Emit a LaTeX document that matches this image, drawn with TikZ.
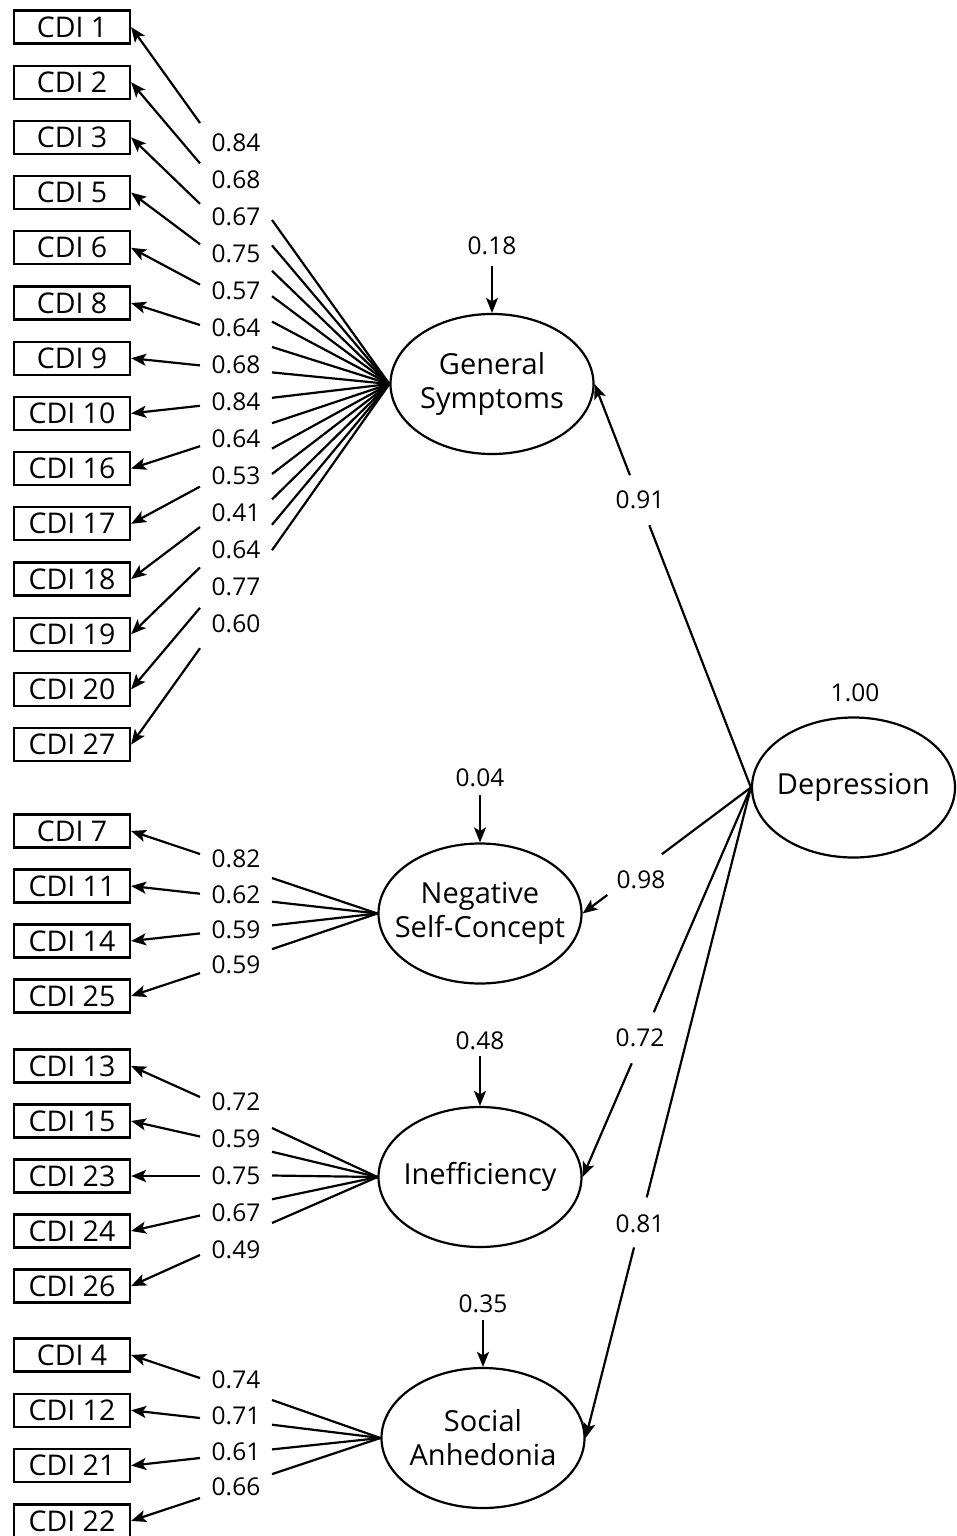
\documentclass[tikz,border=0pt]{standalone}
\usepackage{fontspec}
\setmainfont{Open Sans}
\usetikzlibrary{arrows.meta,calc,shapes.geometric}
\begin{document}
\begin{tikzpicture}[x=1pt,y=-1pt,
  ind/.style={draw,line width=2.2pt,minimum width=116pt,minimum height=33pt,inner sep=0pt,font=\fontsize{28.5}{30}\selectfont},
  lat/.style={draw,ellipse,line width=2.2pt,minimum width=203pt,minimum height=140pt,inner sep=0pt},
  lattext/.style={align=center,inner sep=0pt,font=\fontsize{29}{34}\selectfont},
  num/.style={inner sep=0pt,font=\fontsize{24.5}{26}\selectfont},
  ln/.style={line width=2.2pt},
  arr/.style={line width=2.2pt,-{Stealth[length=15pt,width=12pt,inset=3.5pt]}},
]
\fill[white] (0,0) rectangle (957,1536);
\useasboundingbox (0,0) rectangle (957,1536);

% latent variables
\node[lat] (gs) at (492,384) {};
\node[lattext] (gst) at (gs) {General\\Symptoms};
\node[lat] (nsc) at (480,913.5) {};
\node[lattext] (nsct) at (nsc) {Negative\\Self-Concept};
\node[lat] (ine) at (480,1177) {};
\node[lattext] (inet) at (ine) {Inefficiency};
\node[lat] (sa) at (483,1438) {};
\node[lattext] (sat) at (sa) {Social\\Anhedonia};
\node[lat] (dep) at (853.5,787.5) {};
\node[lattext] (dept) at (dep) {Depression};

% residual variances
\node[num] (vgs) at (492,246) {0.18};
\draw[arr,shorten <=11pt] (vgs.south) -- (gs.north);
\node[num] (vnsc) at (480,778) {0.04};
\draw[arr,shorten <=8pt] (vnsc.south) -- (nsc.north);
\node[num] (vine) at (480,1041) {0.48};
\draw[arr,shorten <=6pt] (vine.south) -- (ine.north);
\node[num] (vsa) at (483,1304) {0.35};
\draw[arr,shorten <=7pt] (vsa.south) -- (sa.north);
\node[num] (vdep) at (855,693) {1.00};

% second-order loadings
\coordinate (g1) at ($(dep.west)!0.650!(gs.east)$);
\coordinate (g2) at ($(dep.west)!0.774!(gs.east)$);
\draw[ln] (dep.west) -- (g1);
\draw[arr] (g2) -- (gs.east);
\node[num] (lgs) at (640,500) {0.91};

\coordinate (n1) at ($(dep.west)!0.529!(nsc.east)$);
\coordinate (n2) at ($(dep.west)!0.853!(nsc.east)$);
\draw[ln] (dep.west) -- (n1);
\draw[arr] (n2) -- (nsc.east);
\node[num] (lnsc) at (641,880) {0.98};

\coordinate (i1) at ($(dep.west)!0.577!(ine.east)$);
\coordinate (i2) at ($(dep.west)!0.708!(ine.east)$);
\draw[ln] (dep.west) -- (i1);
\draw[arr] (i2) -- (ine.east);
\node[num] (line) at (640,1038) {0.72};

\coordinate (s1) at ($(dep.west)!0.630!(sa.east)$);
\coordinate (s2) at ($(dep.west)!0.707!(sa.east)$);
\draw[ln] (dep.west) -- (s1);
\draw[arr] (s2) -- (sa.east);
\node[num] (lsa) at (640,1224) {0.81};

% General Symptoms indicators
\foreach \nm/\lb [count=\k from 0] in {1/0.84,2/0.68,3/0.67,5/0.75,6/0.57,8/0.64,9/0.68,10/0.84,16/0.64,17/0.53,18/0.41,19/0.64,20/0.77,27/0.60}{
  \node[ind] (gsi\k) at (72,{27+55.2*\k}) {CDI \nm};
  \node[num] (gsv\k) at (236,{143+37*\k}) {\lb};
  \coordinate (gsl\k) at (200,{123+40.4*\k});
  \coordinate (gsr\k) at (272,{220+25.4*\k});
  \draw[ln] (gs.west) -- (gsr\k);
  \draw[arr] (gsl\k) -- (gsi\k.east);
}

% Negative Self-Concept indicators
\foreach \nm/\lb [count=\k from 0] in {7/0.82,11/0.62,14/0.59,25/0.59}{
  \node[ind] (nsi\k) at (72,{831+55*\k}) {CDI \nm};
  \node[num] (nsv\k) at (236,{859+35.3*\k}) {\lb};
  \coordinate (nsl\k) at (200,{854+39.7*\k});
  \coordinate (nsr\k) at (272,{878+23.7*\k});
  \draw[ln] (nsc.west) -- (nsr\k);
  \draw[arr] (nsl\k) -- (nsi\k.east);
}

% Inefficiency indicators
\foreach \nm/\lb [count=\k from 0] in {13/0.72,15/0.59,23/0.75,24/0.67,26/0.49}{
  \node[ind] (ini\k) at (72,{1066+55*\k}) {CDI \nm};
  \node[num] (inv\k) at (236,{1102+37*\k}) {\lb};
  \coordinate (inl\k) at (200,{1097+39.5*\k});
  \coordinate (inr\k) at (272,{1128+23.75*\k});
  \draw[ln] (ine.west) -- (inr\k);
  \draw[arr] (inl\k) -- (ini\k.east);
}

% Social Anhedonia indicators
\foreach \nm/\lb [count=\k from 0] in {4/0.74,12/0.71,21/0.61,22/0.66}{
  \node[ind] (sai\k) at (72,{1355+55.3*\k}) {CDI \nm};
  \node[num] (sav\k) at (236,{1380+35.7*\k}) {\lb};
  \coordinate (sal\k) at (200,{1378+40*\k});
  \coordinate (sar\k) at (272,{1400+24.7*\k});
  \draw[ln] (sa.west) -- (sar\k);
  \draw[arr] (sal\k) -- (sai\k.east);
}
\end{tikzpicture}
\end{document}
